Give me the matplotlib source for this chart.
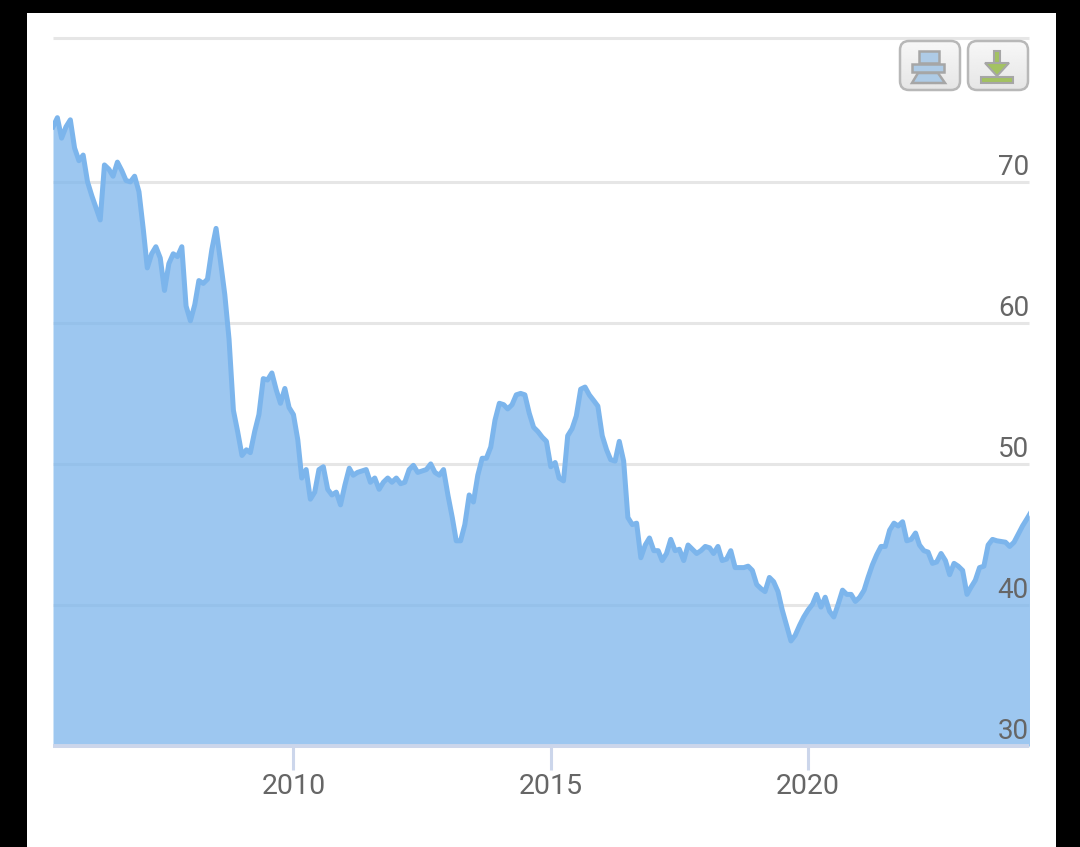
import matplotlib
matplotlib.use("Agg")
import matplotlib.pyplot as plt
import numpy as np
import pandas as pd
from matplotlib.patches import FancyBboxPatch, Polygon, Rectangle

# monthly values starting May 2005
values = [
    73.9, 74.55, 73.1, 73.9, 74.4, 72.4, 71.5, 71.9, 70.0, 69.0,
    68.2, 67.3, 71.2, 70.9, 70.4, 71.4, 70.8, 70.1, 70.0, 70.4,
    69.3, 66.6, 63.9, 64.9, 65.4, 64.6, 62.3, 64.2, 64.9, 64.7,
    65.4, 61.2, 60.15, 61.3, 63.0, 62.8, 63.1, 65.2, 66.7, 64.4,
    62.0, 58.85, 53.8, 52.3, 50.6, 51.0, 50.8, 52.3, 53.5, 56.05,
    55.95, 56.45, 55.25, 54.3, 55.35, 54.0, 53.5, 51.7, 49.0, 49.6,
    47.5, 48.0, 49.6, 49.8, 48.2, 47.8, 48.0, 47.1, 48.5, 49.7,
    49.2, 49.4, 49.5, 49.6, 48.7, 49.0, 48.2, 48.7, 49.0, 48.7,
    49.0, 48.6, 48.7, 49.6, 49.9, 49.4, 49.5, 49.6, 50.0, 49.4,
    49.2, 49.6, 47.8, 46.2, 44.55, 44.55, 45.7, 47.8, 47.3, 49.2,
    50.4, 50.4, 51.2, 53.1, 54.3, 54.2, 53.9, 54.2, 54.9, 55.0,
    54.9, 53.6, 52.6, 52.3, 51.9, 51.6, 49.8, 50.1, 49.0, 48.8,
    52.0, 52.5, 53.4, 55.3, 55.45, 54.9, 54.5, 54.1, 52.0, 51.0,
    50.3, 50.2, 51.6, 50.2, 46.2, 45.7, 45.8, 43.35, 44.25, 44.75,
    43.85, 43.85, 43.15, 43.65, 44.65, 43.85, 43.95, 43.15, 44.25, 43.95,
    43.65, 43.85, 44.15, 44.05, 43.65, 44.15, 43.15, 43.25, 43.85, 42.65,
    42.65, 42.65, 42.75, 42.45, 41.45, 41.15, 40.95, 41.95, 41.65, 40.95,
    39.65, 38.55, 37.45, 37.85, 38.55, 39.15, 39.65, 40.05, 40.75, 39.85,
    40.55, 39.55, 39.15, 40.05, 41.05, 40.75, 40.75, 40.25, 40.55, 41.05,
    41.95, 42.85, 43.55, 44.15, 44.15, 45.3, 45.8, 45.6, 45.9, 44.55,
    44.65, 45.1, 44.25, 43.85, 43.75, 42.95, 43.05, 43.65, 43.15, 42.15,
    42.95, 42.75, 42.45, 40.75, 41.25, 41.75, 42.65, 42.75, 44.25, 44.65,
    44.55, 44.5, 44.45, 44.15, 44.45, 45.05, 45.6, 46.1, 46.6,
]
dates = pd.date_range("2005-05-01", periods=len(values), freq="MS")
y_ticks = [30, 40, 50, 60, 70]
y_labels = ["30", "40", "50", "60", "70"]
y_top = 80.2
x_years = [2010, 2015, 2020]

W, H = 1080, 847
LINE = "#7cb5ec"
GREY = "#666666"
plt.rcParams["font.family"] = "Roboto"

fig = plt.figure(figsize=(W / 100, H / 100), dpi=100, facecolor="black")

# pixel-space layer for the page frame and the two buttons
bg = fig.add_axes([0, 0, 1, 1], zorder=0)
bg.set_xlim(0, W)
bg.set_ylim(H, 0)
bg.axis("off")
bg.add_patch(Rectangle((27, 13), 1029, H - 13, fc="white", ec="none"))

ax = fig.add_axes([53 / W, 1 - 746 / H, (1029 - 53) / W, (746 - 38) / H], zorder=1)
ax.patch.set_alpha(0)
ax.plot(dates, values, color=LINE, lw=3.6, solid_joinstyle="round", zorder=3)
ax.fill_between(dates, values, 30, color=LINE, alpha=0.75, lw=0, zorder=2)

# months count from the first point, so the right edge stops just before the last one
x0 = dates[0]
x1 = dates[-2] + (dates[-1] - dates[-2]) * 0.5
ax.set_xlim(x0, x1)
ax.set_ylim(30, y_top)

for s in ["top", "left", "right"]:
    ax.spines[s].set_visible(False)
ax.spines["bottom"].set_color("#ccd6eb")
ax.spines["bottom"].set_linewidth(2.8)
ax.spines["bottom"].set_capstyle("butt")
ax.set_axisbelow(True)

ax.set_yticks(y_ticks + [y_top])
ax.set_yticklabels([])
ax.grid(axis="y", color="#e6e6e6", lw=2.2, clip_on=False, solid_capstyle="butt")
ax.tick_params(axis="y", length=0)

ax.set_xticks([pd.Timestamp(f"{y}-01-01") for y in x_years])
ax.set_xticklabels([str(y) for y in x_years], fontsize=20.5, color=GREY)
ax.tick_params(axis="x", length=17, width=2.2, color="#ccd6eb", pad=2.5)

for v, lab in zip(y_ticks, y_labels):
    ax.annotate(lab, (1, v), xycoords=("axes fraction", "data"), xytext=(0, 0.4),
                textcoords="offset points", ha="right", va="bottom",
                fontsize=20, color=GREY, zorder=5)

# export buttons sit above the chart
top = fig.add_axes([0, 0, 1, 1], zorder=2)
top.set_xlim(0, W)
top.set_ylim(H, 0)
top.axis("off")
top.patch.set_alpha(0)

grad = np.linspace(0.97, 0.90, 64).reshape(-1, 1)
for bx in [900, 968]:
    box = FancyBboxPatch((bx, 41), 60, 49, boxstyle="round,pad=0,rounding_size=9",
                         fc="none", ec="#b8b8b8", lw=1.8, zorder=4)
    top.add_patch(box)
    im = top.imshow(grad, extent=(bx, bx + 60, 90, 41), cmap="gray", vmin=0, vmax=1,
                    aspect="auto", zorder=3)
    im.set_clip_path(box)
top.set_xlim(0, W)
top.set_ylim(H, 0)

BLUE, GREEN, EDGE = "#aecbe6", "#a3c262", "#a6a6a6"
for p in [
    Rectangle((919, 51), 20, 12, fc=BLUE, ec=EDGE, lw=1.8, zorder=5),
    Polygon([(918, 73), (938, 73), (945, 83), (912, 83)], fc=BLUE, ec=EDGE, lw=1.8, zorder=5),
    Rectangle((912, 64), 32, 8, fc=BLUE, ec=EDGE, lw=1.8, zorder=6),
    Rectangle((994, 51), 6, 12, fc=GREEN, ec=EDGE, lw=1.5, zorder=5),
    Polygon([(985, 63), (1009, 63), (997, 76)], fc=GREEN, ec=EDGE, lw=1.5, zorder=6),
    Rectangle((981, 77), 32, 6, fc=GREEN, ec=EDGE, lw=1.5, zorder=5),
]:
    top.add_patch(p)

fig.savefig("out.png", dpi=100, facecolor=fig.get_facecolor())
plt.close(fig)
